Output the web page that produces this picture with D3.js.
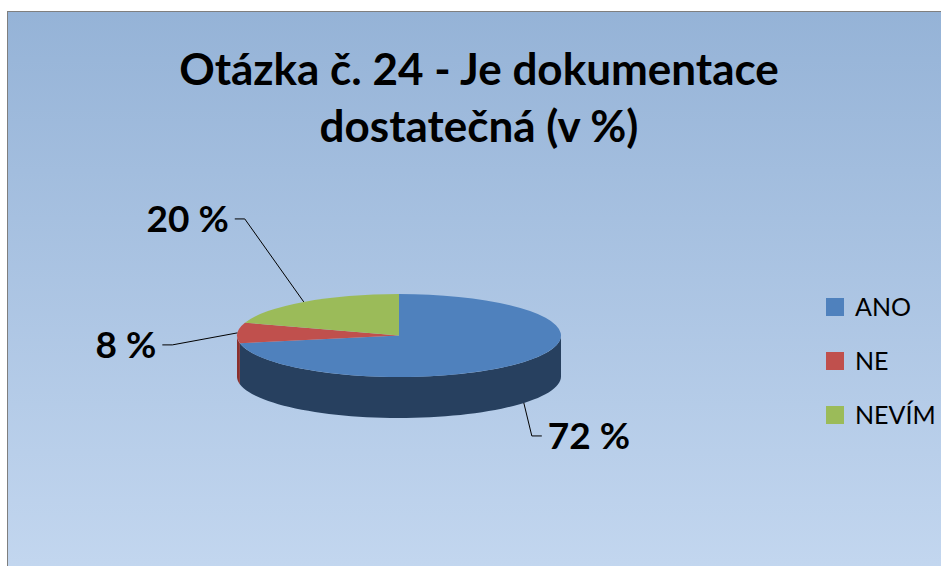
<!DOCTYPE html>
<html>
<head>
<meta charset="utf-8">
<script src="https://cdn.jsdelivr.net/npm/d3@7"></script>
<style>
    body { margin: 0; background: #fff; }
    svg { display: block; }
    .title { font-family: Lato, "Open Sans", sans-serif; font-weight: bold; fill: #000; }
    .pct-label { font-family: Lato, sans-serif; font-weight: bold; fill: #000; }
    .legend-label { font-family: Lato, sans-serif; fill: #000; }
</style>
</head>
<body>
<div id="chart"></div>
<script>
// Data
var categories = ["ANO", "NE", "NEVÍM"];
var values = [72, 8, 20];
var colors = ["#4f81bd", "#c0504d", "#9bbb59"];
var sideColors = ["#27405f", "#8a2f2c", "#6b8a35"];
var titleLines = ["Otázka č. 24 - Je dokumentace", "dostatečná (v %)"];

// Layout
var width = 941, height = 566;
var cx = 399, cy = 335.5, rx = 162, ry = 41.5, depth = 41;
// leader elbow offsets from each slice's anchor point
var labelOffsets = [{dx: 8, dy: 33, side: 1}, {dx: -65, dy: 12, side: -1}, {dx: -59, dy: -83, side: -1}];

var svg = d3.select("#chart").append("svg")
    .attr("width", width)
    .attr("height", height);

var defs = svg.append("defs");
var grad = defs.append("linearGradient")
    .attr("id", "bg")
    .attr("x1", 0).attr("y1", 0).attr("x2", 0).attr("y2", 1);
grad.append("stop").attr("offset", "0%").attr("stop-color", "#95b3d7");
grad.append("stop").attr("offset", "100%").attr("stop-color", "#c6d9f1");

// chart area with border on left / top
svg.append("rect")
    .attr("x", 7.5).attr("y", 11.5)
    .attr("width", 1000).attr("height", 600)
    .attr("fill", "url(#bg)")
    .attr("stroke", "#7f7f7f")
    .attr("stroke-width", 1);

// Title
svg.append("text")
    .attr("class", "title")
    .attr("text-anchor", "middle")
    .style("font-size", "44px")
    .selectAll("tspan")
    .data(titleLines)
    .enter().append("tspan")
    .attr("x", 479)
    .attr("y", function (d, i) { return 85 + i * 57; })
    .text(function (d) { return d; });

// Pie angles
var pie = d3.pie().sort(null).value(function (d) { return d; });
var arcs = pie(values);

function ellipsePt(a, dy) {
    return [cx + rx * Math.sin(a), cy - ry * Math.cos(a) + (dy || 0)];
}

// Sides (only the front half, angles PI/2 .. 3PI/2, is visible)
var sideGroup = svg.append("g");
arcs.forEach(function (d, i) {
    var s = Math.max(d.startAngle, Math.PI / 2);
    var e = Math.min(d.endAngle, 3 * Math.PI / 2);
    if (e <= s) return;
    var n = 60, pts = [], k, a;
    for (k = 0; k <= n; k++) {
        a = s + (e - s) * k / n;
        pts.push(ellipsePt(a, 0));
    }
    for (k = n; k >= 0; k--) {
        a = s + (e - s) * k / n;
        pts.push(ellipsePt(a, depth));
    }
    sideGroup.append("path")
        .attr("d", d3.line()(pts) + "Z")
        .attr("fill", sideColors[i]);
});

// Top surface: d3.arc scaled vertically into an ellipse
var arc = d3.arc().innerRadius(0).outerRadius(rx);
svg.append("g")
    .attr("transform", "translate(" + cx + "," + cy + ") scale(1," + (ry / rx) + ")")
    .selectAll("path")
    .data(arcs)
    .enter().append("path")
    .attr("d", arc)
    .attr("fill", function (d, i) { return colors[i]; });

// Data labels with leader lines
arcs.forEach(function (d, i) {
    var mid = (d.startAngle + d.endAngle) / 2;
    var front = mid > Math.PI / 2 && mid < 3 * Math.PI / 2;
    var p0 = ellipsePt(mid, front ? depth : 0);
    var off = labelOffsets[i];
    var p1 = [p0[0] + off.dx, p0[1] + off.dy];
    var p2 = [p1[0] + off.side * 10, p1[1]];
    svg.append("path")
        .attr("d", d3.line()([p0, p1, p2]))
        .attr("fill", "none")
        .attr("stroke", "#000")
        .attr("stroke-width", 1);
    svg.append("text")
        .attr("class", "pct-label")
        .attr("x", p2[0] + off.side * 6)
        .attr("y", p2[1] + 13)
        .attr("text-anchor", off.side > 0 ? "start" : "end")
        .style("font-size", "37px")
        .text(values[i] + " %");
});

// Legend
var legend = svg.append("g")
    .selectAll("g")
    .data(categories)
    .enter().append("g")
    .attr("transform", function (d, i) { return "translate(826," + (298 + i * 54) + ")"; });

legend.append("rect")
    .attr("width", 18).attr("height", 18)
    .attr("fill", function (d, i) { return colors[i]; });

legend.append("text")
    .attr("class", "legend-label")
    .attr("x", 29)
    .attr("y", 18)
    .style("font-size", "25px")
    .text(function (d) { return d; });
</script>
</body>
</html>
